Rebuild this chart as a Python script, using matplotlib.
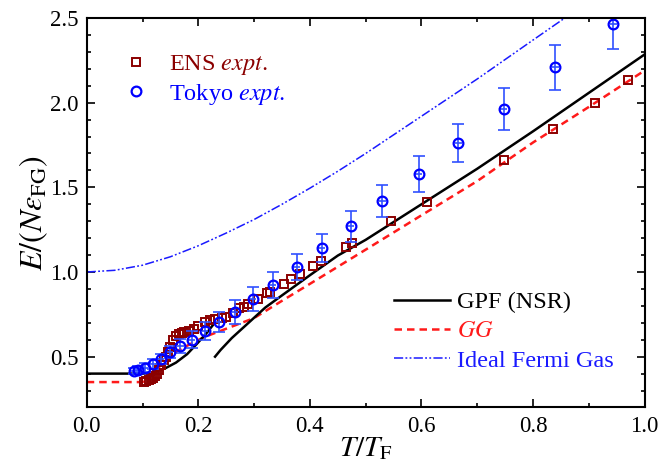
import matplotlib
matplotlib.use("Agg")
import matplotlib.pyplot as plt
from matplotlib.lines import Line2D
from matplotlib.ticker import MultipleLocator

plt.rcParams['font.family'] = ['Liberation Serif', 'DejaVu Serif']
plt.rcParams['mathtext.fontset'] = 'stix'
plt.rcParams['font.size'] = 16

# ---- theory curves ----
ideal_T = [0, 0.05, 0.10, 0.15, 0.20, 0.25, 0.30, 0.35, 0.40, 0.45, 0.50, 0.55,
           0.60, 0.65, 0.70, 0.75, 0.80, 0.87]
ideal_E = [1.00, 1.01, 1.04, 1.09, 1.155, 1.23, 1.31, 1.40, 1.495, 1.595, 1.70,
           1.81, 1.92, 2.03, 2.14, 2.255, 2.37, 2.53]

gpf1_T = [0, 0.05, 0.10, 0.12, 0.14, 0.16, 0.18, 0.20, 0.215, 0.227]
gpf1_E = [0.40, 0.40, 0.40, 0.408, 0.43, 0.465, 0.515, 0.585, 0.64, 0.69]
gpf2_T = [0.230, 0.24, 0.26, 0.28, 0.30, 0.32, 0.35, 0.40, 0.45, 0.50, 0.60,
          0.70, 0.80, 0.90, 1.0]
gpf2_E = [0.50, 0.54, 0.61, 0.67, 0.73, 0.79, 0.862, 0.981, 1.097, 1.19, 1.40,
          1.61, 1.831, 2.058, 2.285]

gg_T = [0, 0.05, 0.10, 0.11, 0.13, 0.15, 0.18, 0.21, 0.25, 0.30, 0.35, 0.40,
        0.50, 0.60, 0.70, 0.80, 0.90, 1.0]
gg_E = [0.35, 0.35, 0.35, 0.37, 0.44, 0.51, 0.565, 0.615, 0.665, 0.728, 0.83,
        0.93, 1.132, 1.335, 1.537, 1.765, 1.975, 2.19]

# ---- ENS experiment ----
ens_T = [0.103, 0.107, 0.111, 0.115, 0.118, 0.122, 0.126, 0.130, 0.134, 0.138,
         0.142, 0.146, 0.150, 0.155, 0.160, 0.165, 0.170, 0.175, 0.183, 0.192,
         0.200, 0.212, 0.221, 0.230, 0.242, 0.250, 0.262, 0.273, 0.281, 0.289,
         0.307, 0.324, 0.328, 0.354, 0.367, 0.382, 0.405, 0.419, 0.464, 0.475,
         0.545, 0.610, 0.747, 0.836, 0.911, 0.970]
ens_E = [0.35, 0.355, 0.36, 0.37, 0.375, 0.385, 0.40, 0.42, 0.45, 0.48,
         0.50, 0.53, 0.56, 0.60, 0.62, 0.635, 0.64, 0.645, 0.65, 0.665,
         0.68, 0.704, 0.714, 0.72, 0.727, 0.737, 0.76, 0.787, 0.796, 0.809,
         0.842, 0.874, 0.884, 0.931, 0.96, 0.986, 1.033, 1.063, 1.148, 1.171,
         1.30, 1.413, 1.66, 1.845, 1.996, 2.133]

# ---- Tokyo experiment ----
tok_T = [0.084, 0.092, 0.104, 0.119, 0.133, 0.149, 0.168, 0.188, 0.212, 0.237,
         0.266, 0.298, 0.334, 0.376, 0.421, 0.473, 0.530, 0.595, 0.666, 0.747,
         0.840, 0.944]
tok_E = [0.415, 0.423, 0.435, 0.455, 0.484, 0.527, 0.563, 0.600, 0.651, 0.704,
         0.763, 0.842, 0.925, 1.029, 1.141, 1.271, 1.417, 1.578, 1.761, 1.962,
         2.208, 2.466]
tok_Eerr = [0.02, 0.02, 0.025, 0.03, 0.03, 0.035, 0.04, 0.05, 0.055, 0.06,
            0.07, 0.07, 0.077, 0.079, 0.084, 0.092, 0.095, 0.105, 0.113, 0.124,
            0.135, 0.15]
tok_Terr = [0.006] * len(tok_T)

fig = plt.figure(figsize=(6.61, 4.72), dpi=100)
ax = fig.add_axes([0.1312, 0.1367, 0.8441, 0.8252])

ens_col = '#8b0000'
tok_col = '#0000ff'
ideal_dash = [6, 1.5, 1.2, 1.5, 1.2, 1.5]

ax.plot(ideal_T, ideal_E, color='#1a1aff', lw=1.1, dashes=ideal_dash)
ax.plot(gg_T, gg_E, color='#ff1a1a', lw=1.8, dashes=[3, 2])
ax.plot(gpf1_T, gpf1_E, color='black', lw=1.8)
ax.plot(gpf2_T, gpf2_E, color='black', lw=1.8)

ax.plot(ens_T, ens_E, 's', mfc='none', mec=ens_col, ms=6, mew=1.4)
ax.errorbar(tok_T, tok_E, yerr=tok_Eerr, fmt='none', ecolor='#3050ff',
            elinewidth=1.2, capsize=4, capthick=1.2)
ax.errorbar(tok_T, tok_E, xerr=tok_Terr, fmt='none', ecolor='#3050ff',
            elinewidth=1.2, capsize=0)
ax.plot(tok_T, tok_E, 'o', mfc='none', mec=tok_col, ms=7, mew=1.6)

ax.set_xlim(0, 1.0)
ax.set_ylim(0.2, 2.5)
ax.xaxis.set_major_locator(MultipleLocator(0.2))
ax.xaxis.set_minor_locator(MultipleLocator(0.1))
ax.yaxis.set_major_locator(MultipleLocator(0.5))
ax.yaxis.set_minor_locator(MultipleLocator(0.1))
ax.xaxis.set_major_formatter(plt.FormatStrFormatter('%.1f'))
ax.yaxis.set_major_formatter(plt.FormatStrFormatter('%.1f'))
ax.tick_params(which='both', direction='in', top=True, right=True, width=1.2,
               labelsize=16.5)
ax.tick_params(which='major', length=6, pad=6)
ax.tick_params(which='minor', length=3)
for s in ax.spines.values():
    s.set_linewidth(1.5)

ax.set_xlabel(r'$T/T_{\rm F}$', fontsize=21, labelpad=-1)
ax.set_ylabel(r'$E/(N\varepsilon_{\rm FG})$', fontsize=23, labelpad=0)

h1 = [Line2D([], [], ls='none', marker='s', mfc='none', mec=ens_col, ms=6, mew=1.4),
      Line2D([], [], ls='none', marker='o', mfc='none', mec=tok_col, ms=7, mew=1.6)]
leg1 = ax.legend(h1, [r'ENS $\mathit{expt.}$', r'Tokyo $\mathit{expt.}$'],
                 loc='upper left', bbox_to_anchor=(0.05, 0.935), frameon=False,
                 fontsize=17.5, handlelength=1.0, handletextpad=0.85,
                 labelspacing=0.2, borderaxespad=0)
for t, c in zip(leg1.get_texts(), [ens_col, tok_col]):
    t.set_color(c)
ax.add_artist(leg1)

h2 = [Line2D([], [], color='black', lw=1.8),
      Line2D([], [], color='#ff1a1a', lw=1.8, dashes=[3, 2]),
      Line2D([], [], color='#1a1aff', lw=1.1, dashes=ideal_dash)]
leg2 = ax.legend(h2, ['GPF (NSR)', r'$GG$', 'Ideal Fermi Gas'],
                 loc='lower left', bbox_to_anchor=(0.533, 0.067), frameon=False,
                 fontsize=17.5, handlelength=2.3, handletextpad=0.3,
                 labelspacing=0.3, borderaxespad=0)
for t, c in zip(leg2.get_texts(), ['black', '#ff1a1a', '#1a1aff']):
    t.set_color(c)

fig.savefig('out.png', dpi=100)
